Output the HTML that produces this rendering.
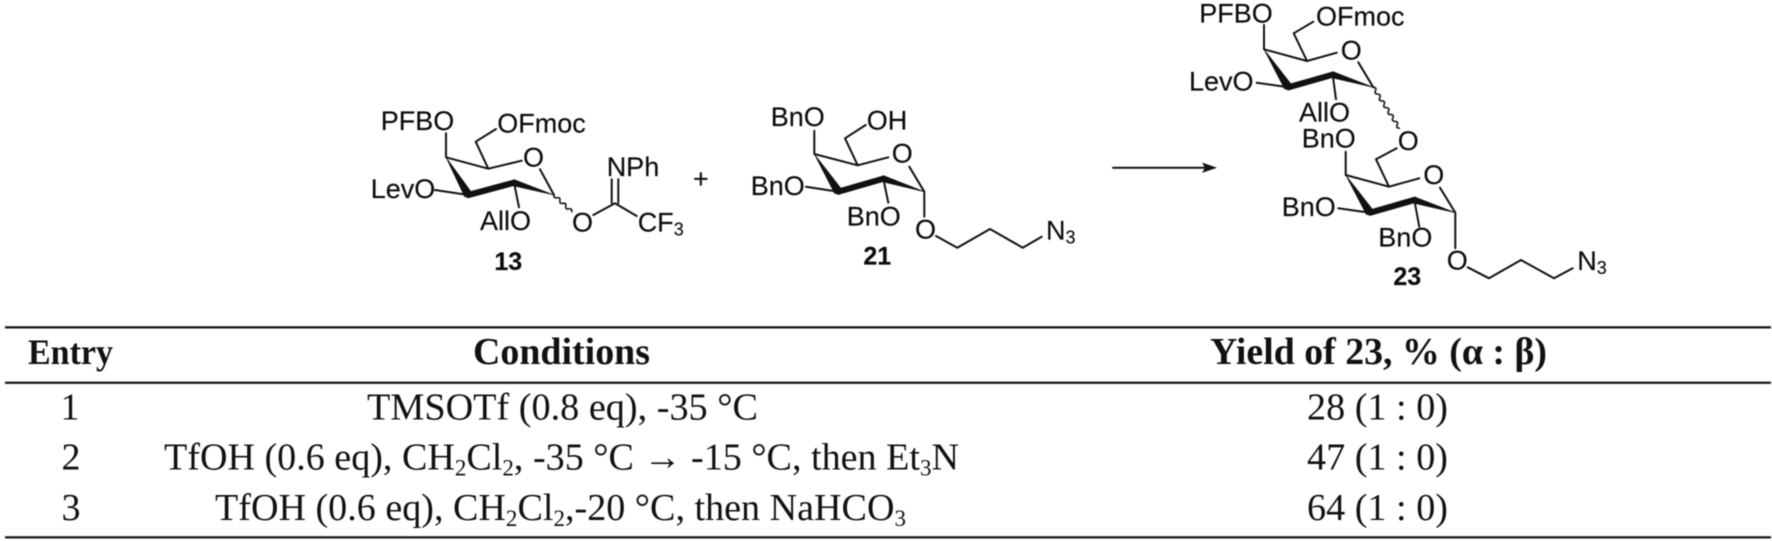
<!DOCTYPE html>
<html><head><meta charset="utf-8"><style>
html,body{margin:0;padding:0;background:#fff}
svg{display:block;filter:blur(0.4px)}
.c text{font-family:"Liberation Sans",Arial,sans-serif;font-size:27px;fill:#0c0c0c;stroke:#0c0c0c;stroke-width:.15}
.c .b{font-weight:bold;font-size:25px;text-anchor:middle}
.c .s{font-size:18px}
.l{stroke:#111;stroke-width:2;fill:none;stroke-linecap:round;stroke-linejoin:round}
.wv{stroke:#111;stroke-width:1.6;fill:none;stroke-linecap:round;stroke-linejoin:round}
.w{fill:#111;stroke:#111;stroke-width:.6;stroke-linejoin:round}
.bb{stroke:#111;stroke-width:6.2;fill:none;stroke-linecap:round}
.t text{font-family:"Liberation Serif","Times New Roman",serif;font-size:38px;fill:#111}
.t .h{font-weight:bold}
.t .e{font-size:36px}
.t .m{text-anchor:middle}
.t .u{font-size:23px}
</style></head><body>
<svg width="1772" height="541" viewBox="0 0 1772 541" xmlns="http://www.w3.org/2000/svg">
<rect width="1772" height="541" fill="#fff"/>
<g class="c">
<!-- 13 -->
<path class="l" d="M488.3,168.7L446,157.3L446,133.3M488.3,168.7L475.7,141.7L496,129M488.3,168.7L521.7,160.7M540,169.3L554,195M468.3,195L435,190M514,182.7L519,207.3M593.3,215L615,203.3L636.7,216M611.7,203L611.7,179.3M618.3,203L618.3,179.3"/>
<path class="wv" d="M554,195q-.59,3.57 2.95,2.78t2.95,2.78t2.95,2.78t2.95,2.78t2.95,2.78t2.95,2.78"/>
<polygon class="w" points="446,157.3 464.8,197 472,193"/>
<line class="bb" x1="468.3" y1="195" x2="514" y2="182.7"/>
<polygon class="w" points="554,195 514,179.5 514,186"/>
<text x="380.7" y="130">PFBO</text>
<text x="497.3" y="132.7">OFmoc</text>
<text x="523" y="166.7">O</text>
<text x="370.7" y="198">LevO</text>
<text x="480" y="230">AllO</text>
<text x="572" y="231.7">O</text>
<text x="606.7" y="176">NPh</text>
<text x="637.7" y="231.7">CF<tspan class="s" dy="4">3</tspan></text>
<text x="693" y="188">+</text>
<text class="b" x="508.3" y="270">13</text>
<!-- 21 -->
<path class="l" d="M857.7,165.3L814.3,154L814.3,130.7M857.7,165.3L845,138.3L865.7,125M857.7,165.3L888.3,157.3M909.3,166.7L924.3,191.7L924.3,216.7M838.3,191.7L806,186.7M883.3,178.7L888.3,202.7M936,236L957.3,247.7L990,229L1022.7,247.7L1041.7,236.7"/>
<polygon class="w" points="814.3,154 834.8,193.7 842,189.7"/>
<line class="bb" x1="838.3" y1="191.7" x2="883.3" y2="178.7"/>
<polygon class="w" points="924.3,191.7 883.3,175.5 883.3,182"/>
<text x="770.7" y="126">BnO</text>
<text x="866.7" y="129.3">OH</text>
<text x="891.7" y="162.7">O</text>
<text x="750.7" y="195">BnO</text>
<text x="846.7" y="225.7">BnO</text>
<text x="915" y="238.3">O</text>
<text x="1046" y="239.3">N<tspan class="s" dy="4">3</tspan></text>
<text class="b" x="877.3" y="264.3">21</text>
<!-- arrow -->
<line class="l" x1="1113" y1="167.7" x2="1206" y2="167.7"/>
<polygon fill="#111" points="1217,167.7 1202,162.5 1205,167.7 1202,172.9"/>
<!-- 23 top -->
<path class="l" d="M1307,61L1264,49.3L1264,25M1307,61L1293.7,33.3L1313.3,21.7M1307,61L1336.7,52.7M1358.3,62.3L1373.3,87.3M1288.3,87.3L1256.7,82.7M1332.7,74.7L1336,99.3"/>
<path class="wv" d="M1373.3,87.3q3.62,.1 2.17,3.41t2.17,3.41t2.17,3.41t2.17,3.41t2.17,3.41t2.17,3.41t2.17,3.41t2.17,3.41t2.17,3.41t2.17,3.41t2.17,3.41t2.17,3.41"/>
<polygon class="w" points="1264,49.3 1284.8,89.3 1292,85.3"/>
<line class="bb" x1="1288.3" y1="87.3" x2="1332.7" y2="74.7"/>
<polygon class="w" points="1373.3,87.3 1332.7,71.5 1332.7,78"/>
<text x="1199.3" y="22.7">PFBO</text>
<text x="1316" y="25.3">OFmoc</text>
<text x="1340.7" y="59.3">O</text>
<text x="1189" y="90.7">LevO</text>
<text x="1299" y="121.7">AllO</text>
<!-- 23 bottom -->
<path class="l" d="M1396.7,148.3L1376,159.3L1389,186.7L1345.7,175L1345.7,151.7M1389,186.7L1419.3,178.3M1440,187.7L1455.3,212.7L1455.3,248.3M1370,212.7L1338.3,208.3M1414.3,200L1419.3,226.7M1467.7,267.3L1489,278.3L1521,260L1554,278.3L1572.7,268.3"/>
<polygon class="w" points="1345.7,175 1366.5,214.7 1373.5,210.7"/>
<line class="bb" x1="1370" y1="212.7" x2="1414.3" y2="200"/>
<polygon class="w" points="1455.3,212.7 1414.3,196.8 1414.3,203.3"/>
<text x="1301.7" y="147.5">BnO</text>
<text x="1397.7" y="150">O</text>
<text x="1423.3" y="184">O</text>
<text x="1281.7" y="216">BnO</text>
<text x="1378.3" y="246.7">BnO</text>
<text x="1446.7" y="269.3">O</text>
<text x="1577.3" y="270">N<tspan class="s" dy="4">3</tspan></text>
<text class="b" x="1407.3" y="285">23</text>
</g>
<g fill="#1a1a1a">
<rect x="5" y="326.2" width="1766" height="2.3"/>
<rect x="5" y="381.6" width="1766" height="2.3"/>
<rect x="5" y="536.2" width="1766" height="2.3"/>
</g>
<g class="t">
<text class="h e" x="28" y="364" textLength="85" lengthAdjust="spacingAndGlyphs">Entry</text>
<text class="h" x="473" y="364" textLength="177" lengthAdjust="spacingAndGlyphs">Conditions</text>
<text class="h" x="1210" y="364" textLength="337" lengthAdjust="spacingAndGlyphs">Yield of 23, % (α : β)</text>
<text class="m" x="70" y="419.3">1</text>
<text class="m" x="71" y="469.3">2</text>
<text class="m" x="71" y="520">3</text>
<text x="367" y="419.3" textLength="391" lengthAdjust="spacingAndGlyphs">TMSOTf (0.8 eq), -35 °C</text>
<text x="164" y="469.3" textLength="795" lengthAdjust="spacingAndGlyphs">TfOH (0.6 eq), CH<tspan class="u" dy="6">2</tspan><tspan dy="-6">Cl</tspan><tspan class="u" dy="6">2</tspan><tspan dy="-6">, -35 °C → -15 °C, then Et</tspan><tspan class="u" dy="6">3</tspan><tspan dy="-6">N</tspan></text>
<text x="215" y="520" textLength="691" lengthAdjust="spacingAndGlyphs">TfOH (0.6 eq), CH<tspan class="u" dy="6">2</tspan><tspan dy="-6">Cl</tspan><tspan class="u" dy="6">2</tspan><tspan dy="-6">,-20 °C, then NaHCO</tspan><tspan class="u" dy="6">3</tspan></text>
<text x="1307" y="419.3" textLength="141" lengthAdjust="spacingAndGlyphs">28 (1 : 0)</text>
<text x="1307" y="469.3" textLength="141" lengthAdjust="spacingAndGlyphs">47 (1 : 0)</text>
<text x="1307" y="520" textLength="141" lengthAdjust="spacingAndGlyphs">64 (1 : 0)</text>
</g>
</svg>
</body></html>
